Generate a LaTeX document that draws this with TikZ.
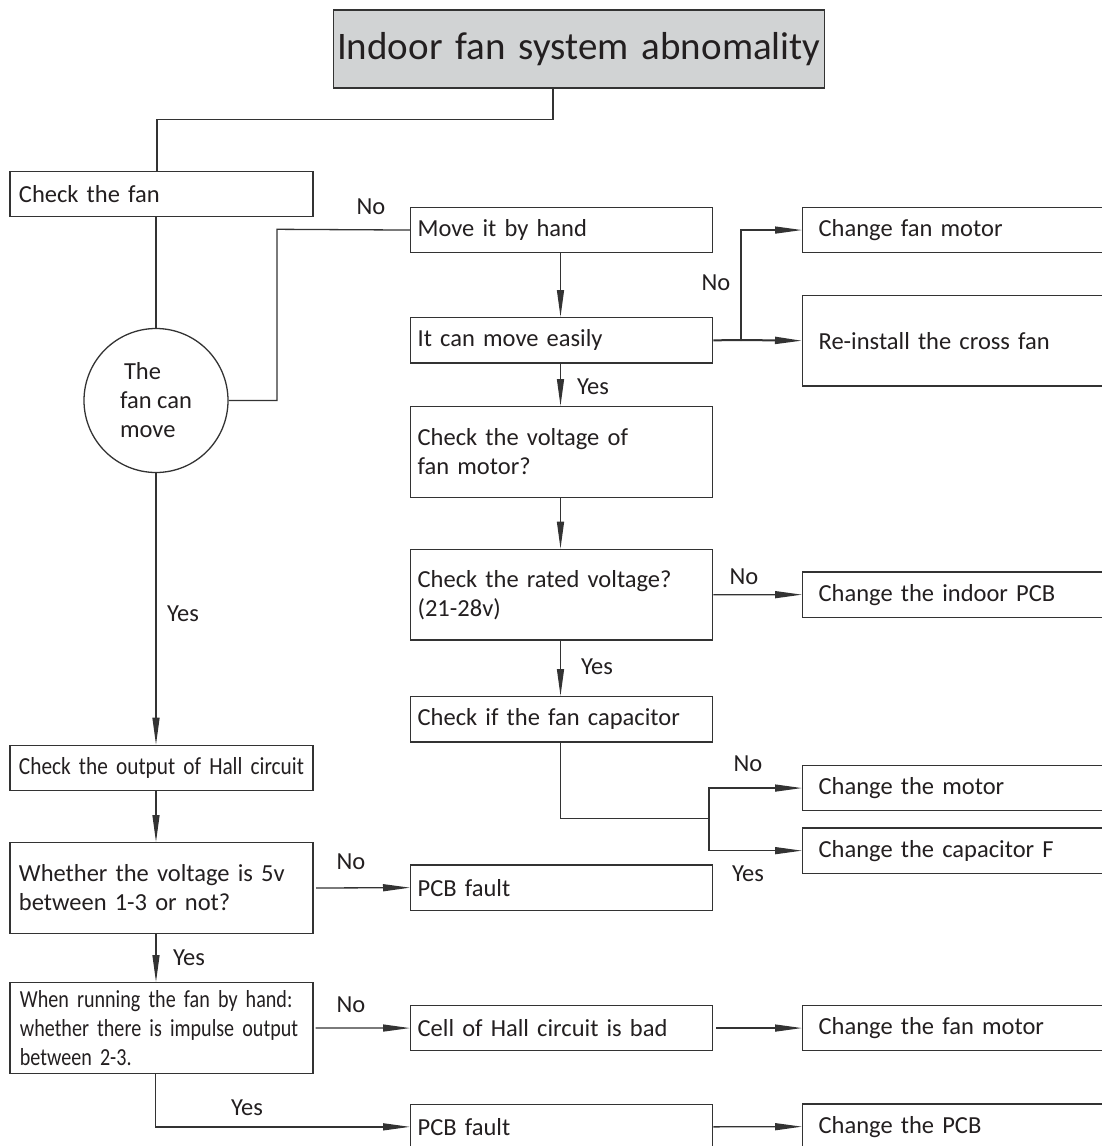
\documentclass[tikz,border=0pt]{standalone}
\usepackage{fontspec}
\setmainfont{Carlito}
\newfontfamily\condfont[FakeStretch=0.82]{Carlito}
\newfontfamily\hallfont[FakeStretch=0.87]{Carlito}
\usetikzlibrary{arrows.meta}
\definecolor{ln}{HTML}{333333}
\definecolor{txt}{HTML}{231F20}
\definecolor{titlefill}{HTML}{D1D3D4}
\newcommand\oneline[1]{\mbox{#1}}
\tikzset{
  base/.style={font=\fontsize{24.5}{29}\selectfont, text=txt},
  box/.style={base, draw=ln, line width=1.3pt, rectangle, anchor=north west, inner ysep=0pt, align=left},
  c1/.style={box, text width=285pt, inner xsep=9pt},
  c2/.style={box, text width=288pt, inner xsep=7pt},
  c3/.style={box, text width=298pt, inner xsep=16pt},
  hs/.style={minimum height=45.4pt},
  ht/.style={minimum height=90.7pt},
  conn/.style={draw=ln, line width=1.3pt},
  arr/.style={conn, -{Triangle[length=27pt,width=7pt]}},
  lbl/.style={base, inner sep=0pt},
}
\begin{document}
\begin{tikzpicture}[x=1pt,y=-1pt]
\path[use as bounding box, clip] (0,0) rectangle (1102,1146);
\fill[white] (0,0) rectangle (1102,1146);

% title
\node[draw=ln, fill=titlefill, line width=1.3pt, anchor=north west, minimum height=78pt,
      inner xsep=3.5pt, text width=484pt, align=left, text=txt,
      font=\fontsize{39}{44}\selectfont] (title) at (333,9.3) {\oneline{Indoor fan system abnomality}};

% column 1
\node[c1, hs] (checkfan) at (9.3,170.7) {\oneline{Check the fan}};
\node[circle, draw=ln, line width=1.3pt, minimum size=144pt, inner sep=0pt, base, align=left]
      (circ) at (156,400.5) {\hspace*{4pt}The\\fan can\\move};
\node[c1, hs, font=\hallfont\fontsize{24.5}{29}\selectfont] (hall) at (9.3,744.7) {\oneline{Check the output of Hall circuit}};
\node[c1, ht] (whether) at (9.3,842) {\oneline{Whether the voltage is 5v}\\\oneline{between 1-3 or not?}};
\node[c1, ht, font=\condfont\fontsize{24.5}{28.7}\selectfont, inner xsep=10pt, text width=283pt]
      (when) at (9.3,982) {\oneline{When running the fan by hand:}\\\oneline{whether there is impulse output}\\\oneline{between 2-3.}};

% column 2
\node[c2, hs] (move) at (410,206.7) {\oneline{Move it by hand}};
\node[c2, hs] (easy) at (410,317) {\oneline{It can move easily}};
\node[c2, ht] (volt) at (410,406) {\oneline{Check the voltage of}\\\oneline{fan motor?}};
\node[c2, ht] (rated) at (410,548.7) {\oneline{Check the rated voltage?}\\\oneline{(21-28v)}};
\node[c2, hs] (cap) at (410,696) {\oneline{Check if the fan capacitor}};
\node[c2, hs] (pcb1) at (410,864.3) {\oneline{PCB fault}};
\node[c2, hs] (cell) at (410,1004.7) {\oneline{Cell of Hall circuit is bad}};
\node[c2, hs] (pcb2) at (410,1103.5) {\oneline{PCB fault}};

% column 3
\node[c3, hs] (cfm) at (802,206.7) {\oneline{Change fan motor}};
\node[c3, ht] (reinst) at (802,294.7) {\oneline{Re-install the cross fan}};
\node[c3, hs] (indoor) at (802,571.3) {\oneline{Change the indoor PCB}};
\node[c3, hs] (cmotor) at (802,764.7) {\oneline{Change the motor}};
\node[c3, hs] (capf) at (802,827.3) {\oneline{Change the capacitor F}};
\node[c3, hs] (cfanm) at (802,1004.7) {\oneline{Change the fan motor}};
\node[c3, hs] (cpcb) at (802,1103.3) {\oneline{Change the PCB}};

% junction points
\coordinate (jt) at (553,119.3);
\coordinate (jl) at (157,119.3);
\coordinate (jn) at (277,229.3);
\coordinate (jb) at (741,340);
\coordinate (jc) at (709,818.7);

% connectors
\draw[conn] (title.south -| jt) -- (jt) -- (jl) -- (jl |- checkfan.north);
\draw[conn] (checkfan.south -| circ.north) -- (circ.north);
\draw[conn] (circ.east) -| (jn) -- (move.west);
\draw[arr] (move.south -| 560.5,0) -- (easy.north -| 560.5,0);
\draw[conn, line width=2pt] (easy.east) -- (jb);
\draw[arr, line width=2pt] (jb) -- (reinst.west);
\draw[arr] (jb) |- (cfm.west);
\draw[arr] (easy.south -| 560.5,0) -- (volt.north -| 560.5,0);
\draw[arr] (volt.south -| 560.5,0) -- (rated.north -| 560.5,0);
\draw[arr] (rated.east) -- (indoor.west);
\draw[arr] (rated.south -| 560.5,0) -- (cap.north -| 560.5,0);
\draw[conn] (cap.south -| 560.5,0) |- (jc);
\draw[arr] (jc) |- (cmotor.west);
\draw[arr] (jc) |- (capf.west);
\draw[arr] (circ.south) -- (hall.north -| circ.south);
\draw[arr] (hall.south -| circ.south) -- (whether.north -| circ.south);
\draw[arr, shorten <=2.5pt] (whether.east) -- (pcb1.west);
\draw[arr] (whether.south -| circ.south) -- (when.north -| circ.south);
\draw[arr, shorten <=2pt] (when.east) -- (cell.west);
\draw[arr, shorten <=3pt] (cell.east) -- (cfanm.west);
\draw[arr] (when.south -| 155.5,0) |- (pcb2.west);
\draw[arr] (pcb2.east) -- (cpcb.west);

% labels
\node[lbl] (l1) at (371,207) {No};
\node[lbl] (l2) at (716,283) {No};
\node[lbl] (l3) at (593,387) {Yes};
\node[lbl] (l4) at (744,577) {No};
\node[lbl] (l5) at (597,667) {Yes};
\node[lbl] (l6) at (748,764) {No};
\node[lbl] (l7) at (748,874) {Yes};
\node[lbl] (l8) at (183,614) {Yes};
\node[lbl] (l9) at (351,862) {No};
\node[lbl] (l10) at (189,958) {Yes};
\node[lbl] (l11) at (351,1005) {No};
\node[lbl] (l12) at (247,1108) {Yes};
\end{tikzpicture}
\end{document}
